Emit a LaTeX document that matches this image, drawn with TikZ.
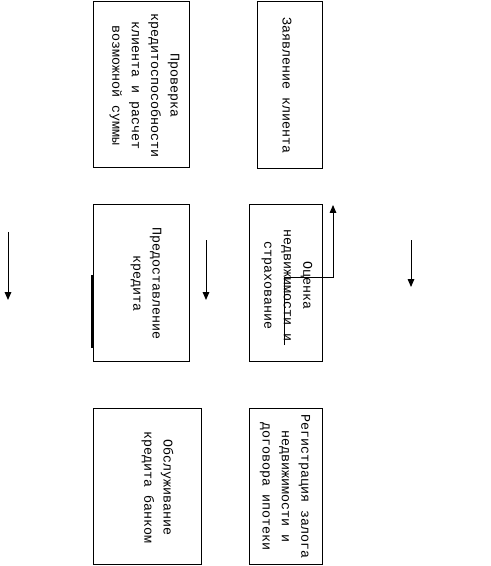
\documentclass[tikz,border=0pt]{standalone}
\usepackage{fontspec}
\setmainfont{Liberation Serif}
\newfontfamily\monofont{Liberation Mono}
\usepackage{tikz}
\usetikzlibrary{arrows.meta}

\tikzset{
  blok/.style={draw, line width=0.75pt, inner sep=0pt},
  tekst/.style={rotate=-90, align=center, inner sep=0pt,
    font=\monofont\fontsize{10}{14.6}\selectfont},
  strelka/.style={line width=0.75pt, -{Triangle[width=5pt,length=6pt]}}
}

\begin{document}
\begin{tikzpicture}[x=0.75pt, y=-0.75pt]
        \useasboundingbox (0,0) rectangle (490,566);
        % Bloki
        \node[blok, minimum width=72pt, minimum height=124.5pt] (prov) at (141,85) {};
        \node[blok, minimum width=48.75pt, minimum height=125.25pt] (zayav) at (289.5,85.5) {};
        \node[blok, minimum width=72pt, minimum height=117pt] (pred) at (141,283) {};
        \node[blok, minimum width=54.75pt, minimum height=117pt] (ocen) at (285.5,283) {};
        \node[blok, minimum width=81pt, minimum height=117pt] (obsl) at (147,486) {};
        \node[blok, minimum width=54.75pt, minimum height=117pt] (regi) at (285.5,486) {};
        % Teksty
        \node[tekst] (tprov) at (144.5,86) {Проверка\\кредитоспособности\\клиента и расчет\\возможной суммы};
        \node[tekst] (tzayav) at (287,86) {Заявление клиента};
        \node[tekst] (tpred) at (146,284) {Предоставление\\кредита};
        \node[tekst] (tocen) at (287,286) {Оценка\\недвижимости и\\страхование};
        \node[tekst] (tobsl) at (157.5,488) {Обслуживание\\кредита банком};
        \node[tekst] (tregi) at (285,487) {Регистрация залога\\недвижимости и\\договора ипотеки};
        % Strelki
        \coordinate (a1) at (8,232);
        \coordinate (b1) at (8,300);
        \coordinate (a2) at (206,240);
        \coordinate (b2) at (206,300);
        \coordinate (a3) at (411,240);
        \coordinate (b3) at (411,287);
        \draw[strelka] (a1) -- (b1);
        \draw[strelka] (a2) -- (b2);
        \draw[strelka] (a3) -- (b3);
        \coordinate (k1) at (284,345);
        \coordinate (k2) at (284,277);
        \coordinate (k3) at (333,277);
        \coordinate (k4) at (333,205);
        \draw[strelka] (k1) -- (k2) -- (k3) -- (k4);
        \coordinate (t1) at (92,275);
        \coordinate (t2) at (92,348);
        \draw[line width=1.5pt] (t1) -- (t2);
    \end{tikzpicture}
\end{document}
